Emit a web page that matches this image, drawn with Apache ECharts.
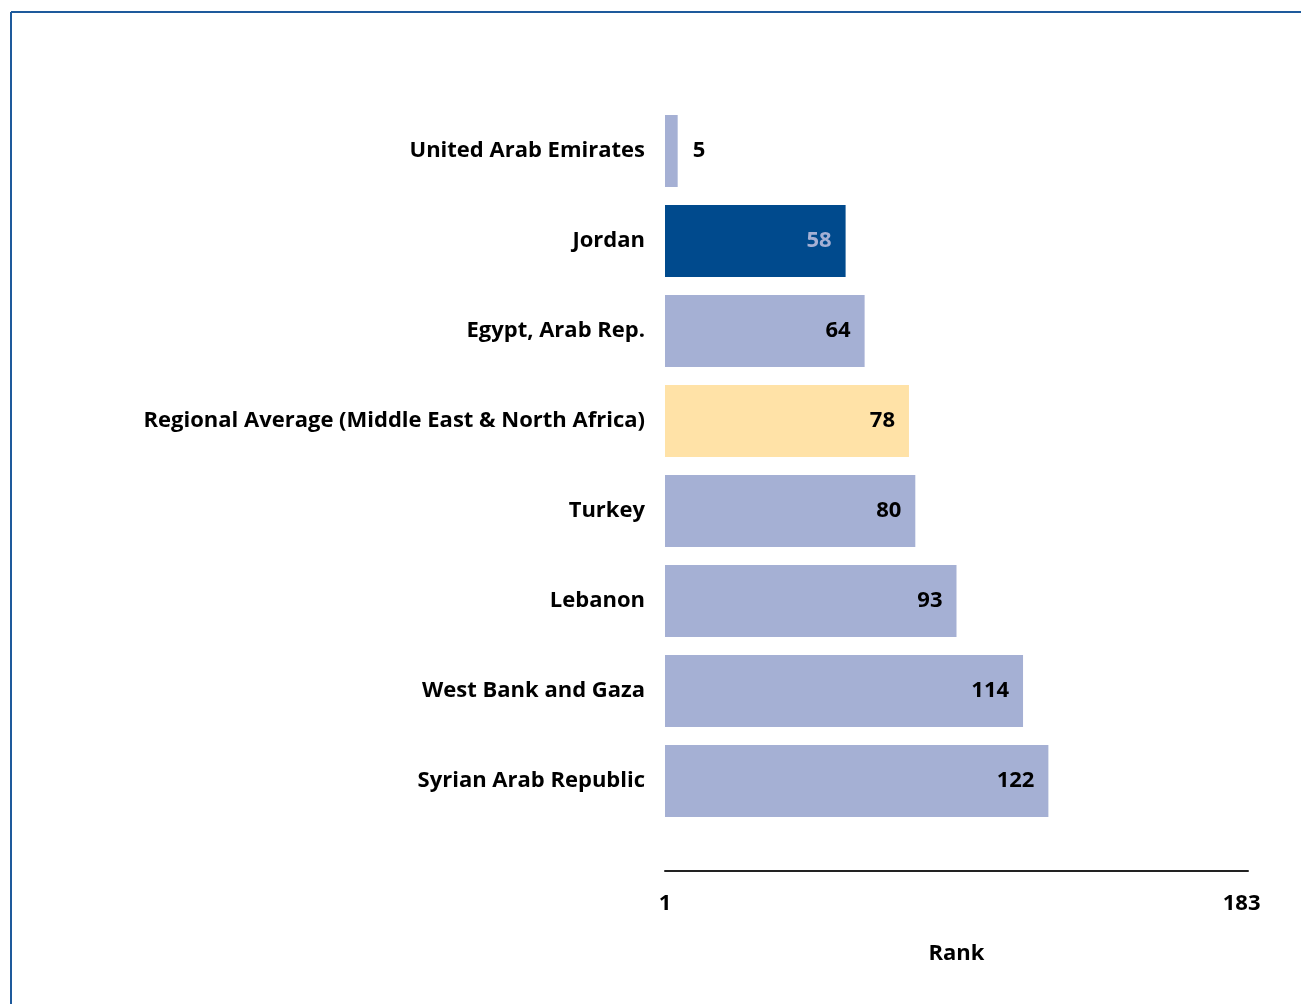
<!DOCTYPE html>
<html><head><meta charset="utf-8">
<script src="https://cdn.jsdelivr.net/npm/echarts@6/dist/echarts.min.js"></script>
<style>html,body{margin:0;padding:0;background:#fff}#c{width:1301px;height:1004px}</style>
</head><body><div id="c"></div>
<script>
const categories = ['United Arab Emirates','Jordan','Egypt, Arab Rep.','Regional Average (Middle East & North Africa)','Turkey','Lebanon','West Bank and Gaza','Syrian Arab Republic'];
const ranks = [5,58,64,78,80,93,114,122];
const barColors = ['#A5B0D4','#004A8D','#A5B0D4','#FFE2A7','#A5B0D4','#A5B0D4','#A5B0D4','#A5B0D4'];
const labelColors = ['#000','#A5B0D4','#000','#000','#000','#000','#000','#000'];
const labelPositions = ['right','insideRight','insideRight','insideRight','insideRight','insideRight','insideRight','insideRight'];
const tickValues = [1,183];

const FONT = 'Open Sans';
const FS = 22;
const chart = echarts.init(document.getElementById('c'), null, {renderer:'canvas'});
chart.setOption({
  animation:false,
  backgroundColor:'#fff',
  graphic:[
    {type:'line', shape:{x1:11,y1:12,x2:1301,y2:12}, style:{stroke:'#1E5A9C',lineWidth:2}},
    {type:'line', shape:{x1:11,y1:12,x2:11,y2:1004}, style:{stroke:'#1E5A9C',lineWidth:2}}
  ],
  grid:{left:665, width:583, top:106, height:720, containLabel:false},
  xAxis:{type:'value', min:1, max:185, position:'bottom', offset:45,
    axisLine:{show:true, lineStyle:{color:'#222', width:2}},
    axisTick:{show:false},
    splitLine:{show:false},
    axisLabel:{customValues:tickValues, margin:22, fontFamily:FONT, fontWeight:'bold', fontSize:FS, color:'#000',
      formatter:v=> tickValues.includes(v)? String(v):''},
    name:'Rank', nameLocation:'middle', nameGap:72,
    nameTextStyle:{fontFamily:FONT, fontWeight:'bold', fontSize:FS, color:'#000'}
  },
  yAxis:{type:'category', data:categories, inverse:true,
    axisLine:{show:false}, axisTick:{show:false},
    axisLabel:{margin:20, padding:[5,0,0,0], fontFamily:FONT, fontWeight:'bold', fontSize:FS, color:'#000'}
  },
  series:[{type:'bar', barCategoryGap:'20%',
    data: ranks.map((v,i)=>({value:v, itemStyle:{color:barColors[i]},
      label:{show:true, position:labelPositions[i], distance: i===0?15:14, padding:[5,0,0,0], color:labelColors[i],
        fontFamily:FONT, fontWeight:'bold', fontSize:FS}}))
  }]
});
</script></body></html>
